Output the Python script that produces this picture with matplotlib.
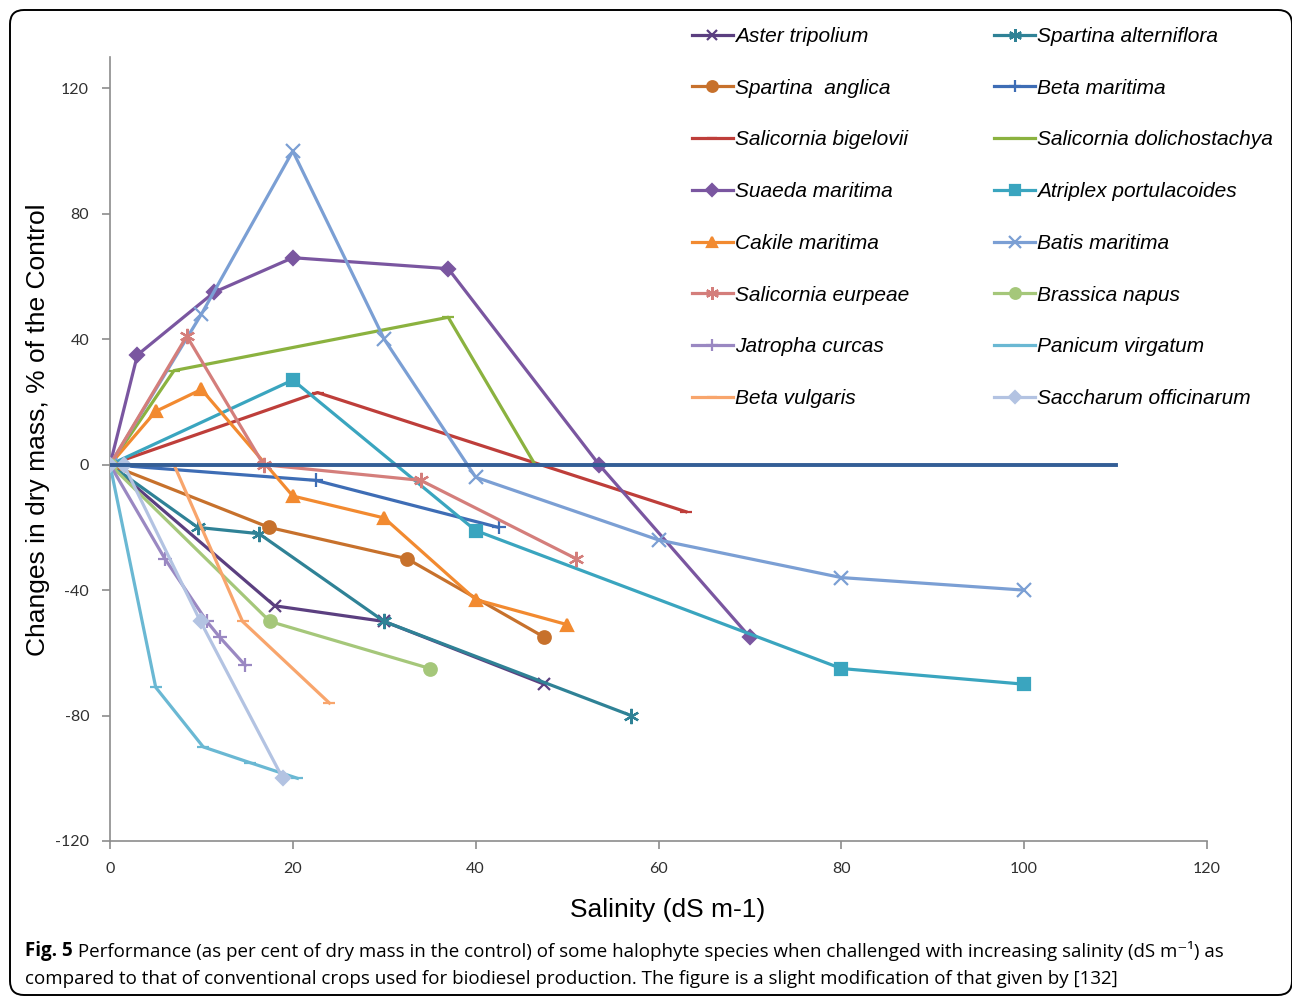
import matplotlib
matplotlib.use('Agg')
import matplotlib.pyplot as plt
from matplotlib.patches import FancyBboxPatch
from matplotlib.transforms import IdentityTransform

plt.rcParams['axes.unicode_minus'] = False  # hífen normal nos números negativos

######### DADOS ###########
# salinidade (dS m-1) e variação da massa seca (% do controle) por espécie
aster_x = [0, 18, 30, 47.5]
aster_y = [0, -45, -50, -70]

sp_alt_x = [0, 9.6, 16.3, 30, 57]
sp_alt_y = [0, -20, -22, -50, -80]

sp_ang_x = [0, 17.4, 32.5, 47.5]
sp_ang_y = [0, -20, -30, -55]

beta_mar_x = [0, 22.5, 42.5]
beta_mar_y = [0, -5, -20]

sal_big_x = [0, 22.7, 63]
sal_big_y = [0, 23, -15]

sal_dol_x = [0, 7, 37, 46.5]
sal_dol_y = [0, 30, 47, 0]

suaeda_x = [0, 3, 11.4, 20, 37, 53.5, 70]
suaeda_y = [0, 35, 55, 66, 62.5, 0, -55]

atriplex_x = [0, 20, 40, 80, 100]
atriplex_y = [0, 27, -21, -65, -70]

cakile_x = [0, 5, 10, 20, 30, 40, 50]
cakile_y = [0, 17, 24, -10, -17, -43, -51]

batis_x = [0, 10, 20, 30, 40, 60, 80, 100]
batis_y = [0, 48, 100, 40, -4, -24, -36, -40]

sal_eur_x = [0, 8.4, 16.8, 34, 51]
sal_eur_y = [0, 41, 0, -5, -30]

brassica_x = [0, 17.5, 35]
brassica_y = [0, -50, -65]

jatropha_x = [0, 6, 10.6, 12, 14.8]
jatropha_y = [0, -30, -50, -55, -64]

panicum_x = [0, 5, 10.2, 15.3, 20.5]
panicum_y = [0, -71, -90, -95, -100]

beta_vul_x = [0, 7, 14.5, 24]
beta_vul_y = [0, 0, -50, -76]

saccharum_x = [0, 1.5, 9.9, 18.9]
saccharum_y = [0, 0, -50, -100]

controle_x = [0, 110]
controle_y = [0, 0]

y_ticks = [-120, -80, -40, 0, 40, 80, 120]
x_ticks = [0, 20, 40, 60, 80, 100, 120]

# (nome, x, y, cor, marcador, tamanho do marcador)
series = [
    ('Aster tripolium', aster_x, aster_y, '#5B3F80', 'x', 8),
    ('Spartina alterniflora', sp_alt_x, sp_alt_y, '#2F8296', (6, 2, 0), 11),
    ('Spartina  anglica', sp_ang_x, sp_ang_y, '#C7712C', 'o', 9),
    ('Beta maritima', beta_mar_x, beta_mar_y, '#3E6DB5', '+', 10),
    ('Salicornia bigelovii', sal_big_x, sal_big_y, '#BE3E3A', '_', 8),
    ('Salicornia dolichostachya', sal_dol_x, sal_dol_y, '#8BB23F', '_', 8),
    ('Suaeda maritima', suaeda_x, suaeda_y, '#7A56A0', 'D', 7),
    ('Atriplex portulacoides', atriplex_x, atriplex_y, '#3AA5BF', 's', 9),
    ('Cakile maritima', cakile_x, cakile_y, '#F28A30', '^', 9),
    ('Batis maritima', batis_x, batis_y, '#7B9FD4', 'x', 10),
    ('Salicornia eurpeae', sal_eur_x, sal_eur_y, '#D47E7B', (6, 2, 0), 11),
    ('Brassica napus', brassica_x, brassica_y, '#A5C77A', 'o', 9),
    ('Jatropha curcas', jatropha_x, jatropha_y, '#9A88C2', '+', 10),
    ('Panicum virgatum', panicum_x, panicum_y, '#6AB8D3', '_', 8),
    ('Beta vulgaris', beta_vul_x, beta_vul_y, '#F8A56C', '_', 8),
    ('Saccharum officinarum', saccharum_x, saccharum_y, '#B3C3E2', 'D', 7),
]

#Criando a figura--------------------------------------------------
fig = plt.figure(figsize=(12.92, 9.98), dpi=100)
ax = fig.add_axes([110/1292, 1 - 841/998, (1207-110)/1292, (841-57)/998])

handles = {}
for nome, xs, ys, cor, marc, ms in series:
    linha, = ax.plot(xs, ys, color=cor, linewidth=2.3, marker=marc, markersize=ms,
                     markeredgewidth=1.6, markeredgecolor=cor, label=nome, zorder=3)
    handles[nome] = linha

# linha do controle (sem legenda)
ax.plot(controle_x, controle_y, color='#335E96', linewidth=2.8, zorder=4)

ax.set_xlim(0, 120)
ax.set_ylim(-120, 130)
ax.set_xticks(x_ticks)
ax.set_yticks(y_ticks)
for s in ['top', 'right']:
    ax.spines[s].set_visible(False)
for s in ['left', 'bottom']:
    ax.spines[s].set_color('#8C8C8C')
    ax.spines[s].set_linewidth(1.2)
ax.tick_params(axis='both', direction='out', length=6, width=1.2, color='#8C8C8C',
               labelsize=11.5, labelcolor='#303030')
ax.tick_params(axis='y', pad=9)
ax.tick_params(axis='x', pad=9)
for lab in ax.get_xticklabels() + ax.get_yticklabels():
    lab.set_fontfamily('Lato')

fig.text(38/1292, 1 - 430/998, 'Changes in dry mass, % of the Control', rotation=90,
         ha='center', va='center', fontsize=19, family='Liberation Sans')
fig.text(668/1292, 1 - 910/998, 'Salinity (dS m-1)', ha='center', va='center',
         fontsize=19, family='Liberation Sans')

# legenda em duas colunas (ordem por coluna)
col1 = ['Aster tripolium', 'Spartina  anglica', 'Salicornia bigelovii', 'Suaeda maritima',
        'Cakile maritima', 'Salicornia eurpeae', 'Jatropha curcas', 'Beta vulgaris']
col2 = ['Spartina alterniflora', 'Beta maritima', 'Salicornia dolichostachya',
        'Atriplex portulacoides', 'Batis maritima', 'Brassica napus', 'Panicum virgatum',
        'Saccharum officinarum']
ordem = col1 + col2
leg = ax.legend([handles[n] for n in ordem], ordem, ncol=2, loc='upper left',
                bbox_to_anchor=(692/1292, 1 - 27/998), bbox_transform=fig.transFigure,
                frameon=False, handlelength=1.95, handletextpad=0.1, labelspacing=1.57,
                columnspacing=4.1, borderaxespad=0, borderpad=0, markerscale=0.85,
                prop={'family': 'Liberation Sans', 'style': 'italic', 'size': 15})

# legenda da figura
t1 = fig.text(25/1292, 1 - 961/998, 'Fig. 5', fontsize=13.5, weight='bold',
              family=['Open Sans', 'DejaVu Sans'], va='bottom')
ax.annotate(' Performance (as per cent of dry mass in the control) of some halophyte species '
            'when challenged with increasing salinity (dS m\u207b\u00b9) as',
            xy=(1, 0), xycoords=t1, va='bottom', ha='left', fontsize=13.5,
            family=['Open Sans', 'DejaVu Sans'], annotation_clip=False)
fig.text(25/1292, 1 - 988/998, 'compared to that of conventional crops used for biodiesel '
         'production. The figure is a slight modification of that given by [132]',
         fontsize=13.5, family=['Open Sans', 'DejaVu Sans'], va='bottom')

# moldura arredondada
fig.patches.append(FancyBboxPatch((10, 3), 1282, 985, boxstyle='round,pad=0,rounding_size=14',
                                  transform=IdentityTransform(), fill=False,
                                  edgecolor='black', linewidth=1.4))

plt.savefig('out.png', dpi=100)
